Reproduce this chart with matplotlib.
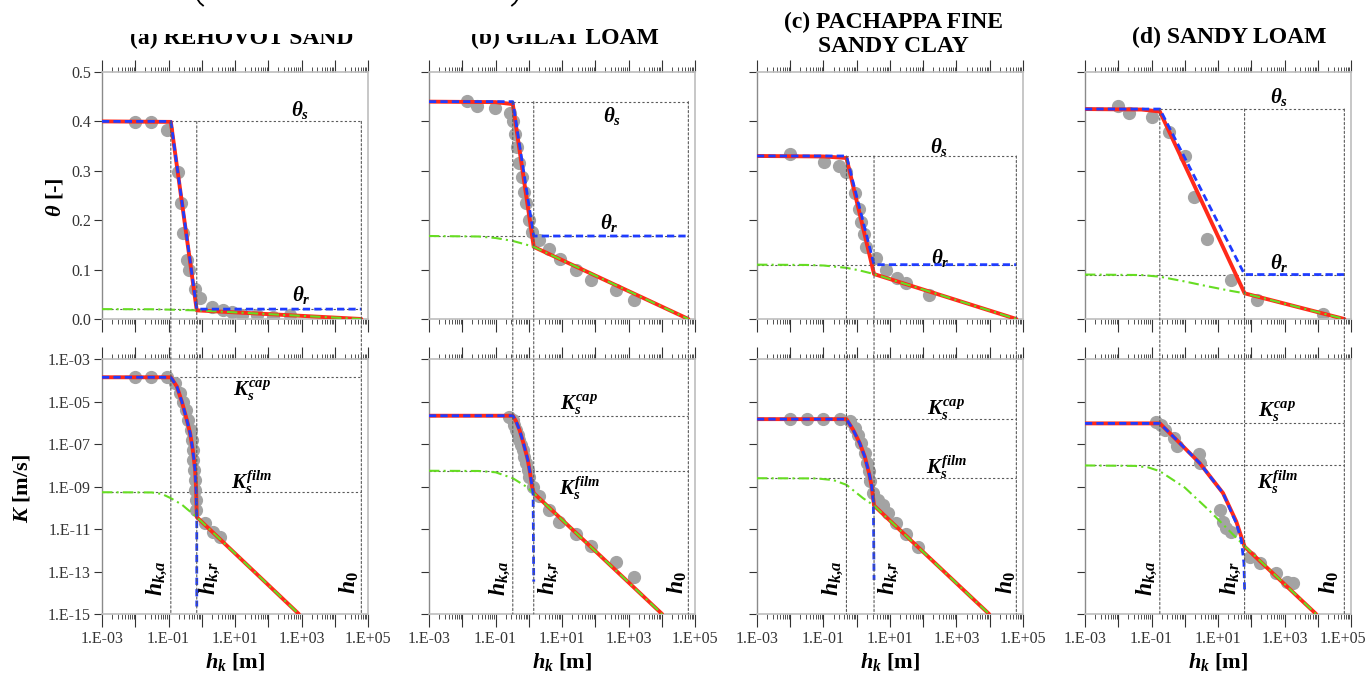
import numpy as np
import matplotlib
matplotlib.use('Agg')
import matplotlib.pyplot as plt
from matplotlib.patches import ConnectionPatch, Rectangle
from matplotlib.lines import Line2D
from matplotlib.transforms import ScaledTranslation
from matplotlib.ticker import FixedLocator, LogLocator, NullLocator, FuncFormatter

plt.rcParams['font.family'] = 'Liberation Serif'
plt.rcParams['mathtext.fontset'] = 'custom'
plt.rcParams['mathtext.rm'] = 'Liberation Serif:bold'
plt.rcParams['mathtext.it'] = 'Liberation Serif:bold:italic'
plt.rcParams['mathtext.bf'] = 'Liberation Serif:bold'

# ---------------------------------------------------------------- data
# all suctions are log10(h_k [m]), all conductivities log10(K [m/s])
titles = [['(a) REHOVOT SAND'], ['(b) GILAT LOAM'],
          ['(c) PACHAPPA FINE', 'SANDY CLAY'], ['(d) SANDY LOAM']]

theta_s = [0.40, 0.44, 0.33, 0.425]
theta_r = [0.02, 0.168, 0.11, 0.09]
lg_ha = [-0.93, -0.48, -0.31, -0.75]
lg_hr = [-0.15, 0.15, 0.52, 1.80]
lg_h0 = 4.8
lg_Kcap = [-3.86, -5.67, -5.83, -6.03]
lg_Kfilm = [-9.27, -8.26, -8.61, -8.01]

# measured water retention
rehovot_th_h = [-2.0, -1.52, -1.05, -0.70, -0.62, -0.55, -0.45, -0.38, -0.20, -0.06,
                0.30, 0.63, 0.90, 1.2, 1.65, 2.14, 2.65]
rehovot_th = [0.399, 0.399, 0.383, 0.298, 0.235, 0.175, 0.119, 0.100, 0.060, 0.043,
              0.024, 0.018, 0.014, 0.009, 0.008, 0.005, 0.008]
gilat_th_h = [-1.86, -1.55, -1.02, -0.55, -0.46, -0.40, -0.35, -0.28, -0.20, -0.13,
              -0.08, 0.0, 0.10, 0.32, 0.62, 0.95, 1.42, 1.87, 2.63, 3.18]
gilat_th = [0.441, 0.432, 0.428, 0.416, 0.401, 0.375, 0.348, 0.315, 0.288, 0.257,
            0.234, 0.200, 0.177, 0.160, 0.141, 0.121, 0.099, 0.079, 0.059, 0.038]
pachappa_th_h = [-2.0, -0.985, -0.53, -0.33, -0.06, 0.07, 0.14, 0.21, 0.29, 0.59,
                 0.89, 1.21, 1.49, 2.17]
pachappa_th = [0.334, 0.318, 0.310, 0.298, 0.255, 0.222, 0.197, 0.173, 0.146, 0.123,
               0.099, 0.082, 0.072, 0.049]
sloam_th_h = [-2.0, -1.68, -0.98, -0.48, 0.0, 0.27, 0.68, 1.38, 2.17, 4.17]
sloam_th = [0.431, 0.417, 0.408, 0.379, 0.330, 0.247, 0.161, 0.079, 0.038, 0.010]

# measured hydraulic conductivity
rehovot_K_h = [-2.0, -1.52, -1.05, -0.80, -0.65, -0.55, -0.47, -0.40, -0.33, -0.29,
               -0.27, -0.25, -0.23, -0.21, -0.19, -0.18, -0.17, 0.10, 0.35, 0.55]
rehovot_K = [-3.86, -3.86, -3.86, -4.13, -4.60, -5.0, -5.39, -5.86, -6.33, -6.80,
             -7.27, -7.74, -8.21, -8.69, -9.16, -9.63, -10.10, -10.73, -11.12, -11.36]
gilat_K_h = [-0.58, -0.48, -0.43, -0.38, -0.33, -0.28, -0.23, -0.18, -0.13, -0.08,
             -0.03, 0.02, 0.12, 0.30, 0.60, 0.92, 1.42, 1.87, 2.63, 3.18]
gilat_K = [-5.73, -5.89, -6.09, -6.33, -6.57, -6.80, -7.04, -7.27, -7.59, -7.90,
           -8.21, -8.53, -9.0, -9.47, -10.10, -10.65, -11.23, -11.80, -12.53, -13.24]
pachappa_K_h = [-2.0, -1.50, -1.00, -0.49, -0.19, -0.06, 0.04, 0.14, 0.24, 0.31,
                0.36, 0.41, 0.49, 0.64, 0.79, 0.94, 1.19, 1.49, 1.84]
pachappa_K = [-5.83, -5.83, -5.83, -5.83, -5.94, -6.25, -6.57, -6.96, -7.43, -7.90,
              -8.29, -8.76, -9.31, -9.63, -9.86, -10.26, -10.73, -11.23, -11.83]
sloam_K_h = [-0.87, -0.70, -0.60, -0.33, -0.23, 0.43, 0.47, 1.05, 1.15, 1.25,
             1.40, 1.95, 2.25, 2.75, 3.07, 3.25]
sloam_K = [-5.98, -6.09, -6.33, -6.72, -7.11, -7.46, -7.90, -10.10, -10.65, -10.96,
           -11.12, -12.30, -12.61, -13.08, -13.48, -13.52]

# fitted curves, (log10 h, theta) vertices: total / capillary / film
rehovot_th_tot = [(-3, 0.40), (-0.93, 0.399), (-0.15, 0.0175), (4.8, 0.0)]
rehovot_th_cap = [(-3, 0.40), (-0.93, 0.40), (-0.15, 0.02), (4.8, 0.02)]
rehovot_th_film = [(-3, 0.020), (-1.5, 0.0197), (-0.93, 0.0189), (-0.5, 0.018),
                   (-0.15, 0.0175), (4.8, 0.0)]
gilat_th_tot = [(-3, 0.44), (-1.0, 0.439), (-0.48, 0.435), (0.15, 0.146), (4.8, 0.0)]
gilat_th_cap = [(-3, 0.44), (-0.48, 0.44), (0.15, 0.168), (4.8, 0.168)]
gilat_th_film = [(-3, 0.168), (-1.5, 0.167), (-1.0, 0.164), (-0.48, 0.158),
                 (-0.15, 0.152), (0.15, 0.146), (4.8, 0.0)]
pachappa_th_tot = [(-3, 0.33), (-1.0, 0.329), (-0.31, 0.326), (0.52, 0.091), (4.8, 0.0)]
pachappa_th_cap = [(-3, 0.33), (-0.31, 0.33), (0.52, 0.11), (4.8, 0.11)]
pachappa_th_film = [(-3, 0.110), (-1.5, 0.1094), (-1.0, 0.1083), (-0.31, 0.1035),
                    (0.08, 0.0984), (0.52, 0.091), (4.8, 0.0)]
sloam_th_tot = [(-3, 0.425), (-1.3, 0.424), (-0.75, 0.420), (1.80, 0.052), (4.8, 0.0)]
sloam_th_cap = [(-3, 0.425), (-0.75, 0.425), (1.80, 0.09), (4.8, 0.09)]
sloam_th_film = [(-3, 0.090), (-1.3, 0.089), (-0.75, 0.0856), (0.0, 0.076),
                 (0.7, 0.066), (1.3, 0.058), (1.80, 0.052), (4.8, 0.0)]

# fitted curves, (log10 h, log10 K) vertices: total / capillary / film
rehovot_K_tot = [(-3, -3.86), (-0.93, -3.86), (-0.75, -4.29), (-0.6, -5.0), (-0.45, -5.86),
                 (-0.35, -6.49), (-0.27, -7.27), (-0.2, -8.2), (-0.17, -9.1),
                 (-0.15, -10.44), (2.92, -15.0)]
rehovot_K_cap = [(-3, -3.86), (-0.93, -3.86), (-0.75, -4.29), (-0.6, -5.0), (-0.45, -5.86),
                 (-0.35, -6.49), (-0.27, -7.27), (-0.2, -8.21), (-0.17, -9.16),
                 (-0.15, -10.41), (-0.15, -14.65)]
rehovot_K_film = [(-3, -9.27), (-1.5, -9.28), (-1.2, -9.35), (-0.93, -9.55), (-0.6, -9.85),
                  (-0.45, -10.05), (-0.15, -10.44), (2.92, -15.0)]
gilat_K_tot = [(-3, -5.67), (-0.48, -5.67), (-0.38, -5.94), (-0.28, -6.33), (-0.16, -6.96),
               (-0.03, -7.74), (0.04, -8.37), (0.10, -9.0), (0.15, -9.31), (4.01, -15.0)]
gilat_K_cap = [(-3, -5.67), (-0.48, -5.67), (-0.38, -5.94), (-0.28, -6.33), (-0.16, -6.96),
               (-0.03, -7.74), (0.04, -8.37), (0.10, -9.0), (0.13, -9.3), (0.15, -13.48)]
gilat_K_film = [(-3, -8.26), (-1.5, -8.27), (-1.0, -8.33), (-0.48, -8.61), (-0.08, -9.0),
                (0.15, -9.31), (4.01, -15.0)]
pachappa_K_tot = [(-3, -5.83), (-0.31, -5.83), (-0.11, -6.33), (0.09, -6.96), (0.24, -7.59),
                  (0.37, -8.37), (0.45, -9.0), (0.52, -9.90), (3.98, -15.0)]
pachappa_K_cap = [(-3, -5.83), (-0.31, -5.83), (-0.11, -6.33), (0.09, -6.96), (0.24, -7.59),
                  (0.37, -8.37), (0.45, -9.0), (0.50, -9.7), (0.52, -13.40)]
pachappa_K_film = [(-3, -8.61), (-1.2, -8.62), (-0.7, -8.70), (-0.31, -8.92), (0.19, -9.55),
                   (0.52, -9.90), (3.98, -15.0)]
sloam_K_tot = [(-3, -6.03), (-0.75, -6.03), (-0.25, -6.80), (0.45, -7.90), (1.15, -9.31),
               (1.55, -10.65), (1.70, -11.36), (1.80, -11.83), (3.95, -15.0)]
sloam_K_cap = [(-3, -6.03), (-0.75, -6.03), (-0.25, -6.80), (0.45, -7.90), (1.15, -9.31),
               (1.55, -10.73), (1.70, -11.51), (1.78, -12.61), (1.80, -13.87)]
sloam_K_film = [(-3, -8.01), (-1.5, -8.03), (-1.1, -8.1), (-0.75, -8.28), (0.0, -9.05),
                (0.75, -10.15), (1.35, -11.1), (1.80, -11.8), (3.95, -15.0)]

th_obs = [(rehovot_th_h, rehovot_th), (gilat_th_h, gilat_th),
          (pachappa_th_h, pachappa_th), (sloam_th_h, sloam_th)]
K_obs = [(rehovot_K_h, rehovot_K), (gilat_K_h, gilat_K),
         (pachappa_K_h, pachappa_K), (sloam_K_h, sloam_K)]
th_fit = [(rehovot_th_tot, rehovot_th_cap, rehovot_th_film),
          (gilat_th_tot, gilat_th_cap, gilat_th_film),
          (pachappa_th_tot, pachappa_th_cap, pachappa_th_film),
          (sloam_th_tot, sloam_th_cap, sloam_th_film)]
K_fit = [(rehovot_K_tot, rehovot_K_cap, rehovot_K_film),
         (gilat_K_tot, gilat_K_cap, gilat_K_film),
         (pachappa_K_tot, pachappa_K_cap, pachappa_K_film),
         (sloam_K_tot, sloam_K_cap, sloam_K_film)]

# ---------------------------------------------------------------- styles
c_tot, c_cap, c_film = '#ff2a1a', '#1f3cff', '#66dd22'
c_ref = '#5a5a5a'
dot_kw = dict(ls='none', marker='o', ms=8.5, mfc='#a3a3a3', mec='#a3a3a3', zorder=2)
tot_kw = dict(color=c_tot, lw=2.8, zorder=3, solid_capstyle='round')
film_kw = dict(color=c_film, lw=1.5, ls=(0, (5, 2, 1, 2)), zorder=4)
cap_kw = dict(color=c_cap, lw=2.0, ls=(0, (2.6, 1.5)), zorder=5)
ref_kw = dict(color=c_ref, lw=0.8, ls=(0, (2, 2)), zorder=1)

# annotation positions (log10 h, value)
th_s_lab = [(2.95, 0.423), (2.52, 0.41), (2.48, 0.348), (2.84, 0.449)]
th_r_lab = [(3.0, 0.049), (2.43, 0.194), (2.5, 0.123), (2.84, 0.113)]
Kcap_lab = [(1.50, -4.5), (1.52, -5.16), (2.69, -5.4), (2.78, -5.49)]
Kfilm_lab = [(1.50, -8.79), (1.52, -9.07), (2.69, -8.08), (2.78, -8.79)]
h_lab_x = [(-1.35, 0.24, 4.45), (-0.87, 0.62, 4.46), (-0.72, 0.98, 4.49), (-1.14, 1.40, 4.34)]

W, H = 1371.0, 677.0
fig = plt.figure(figsize=(W / 100, H / 100), dpi=100)

lefts = [102, 429, 757, 1085]
axw = 266


def lg_curve(ax, pts, logy=False, **kw):
    pts = np.asarray(pts, float)
    y = 10 ** pts[:, 1] if logy else pts[:, 1]
    ax.plot(10 ** pts[:, 0], y, **kw)


def exp_fmt(v, pos):
    e = int(round(np.log10(v)))
    return '1.E%+03d' % e


def style_axes(ax, col, bottom_row):
    ax.set_xscale('log')
    ax.set_xlim(1e-3, 1e5)
    ax.xaxis.set_major_locator(FixedLocator(10.0 ** np.arange(-3, 6)))
    ax.xaxis.set_minor_locator(LogLocator(base=10, subs=np.arange(2, 10), numticks=30))
    ax.tick_params(axis='x', which='both', direction='out', top=True, bottom=True,
                   colors='#333333', labelsize=11.5, pad=3)
    ax.tick_params(axis='x', which='major', length=9, width=0.8)
    ax.tick_params(axis='x', which='minor', length=3.5, width=0.6)
    ax.tick_params(axis='y', which='major', direction='out', length=6, width=0.8,
                   colors='#333333', labelsize=11.5, pad=2, right=False)
    ax.tick_params(axis='y', which='minor', left=False, right=False)
    for side in ('top', 'bottom', 'right'):
        ax.spines[side].set_color('#bdbdbd')
        ax.spines[side].set_linewidth(1.2)
    ax.spines['left'].set_color('#8a8a8a')
    ax.spines['left'].set_linewidth(1.0)
    if bottom_row:
        ax.xaxis.set_major_formatter(FuncFormatter(
            lambda v, p: exp_fmt(v, p) if int(round(np.log10(v))) % 2 else ''))
    else:
        ax.set_xticklabels([])
    ax.xaxis.set_minor_formatter(FuncFormatter(lambda v, p: ''))


for i, x0 in enumerate(lefts):
    at = fig.add_axes([x0 / W, 1 - 319 / H, axw / W, 247 / H])
    ab = fig.add_axes([x0 / W, 1 - 614 / H, axw / W, 255 / H])
    style_axes(at, i, False)
    style_axes(ab, i, True)

    ha, hr, h0 = 10 ** lg_ha[i], 10 ** lg_hr[i], 10 ** lg_h0
    Kc, Kf = 10 ** lg_Kcap[i], 10 ** lg_Kfilm[i]

    # water retention
    at.set_ylim(0, 0.5)
    at.set_yticks(np.arange(0, 0.51, 0.1))
    if i == 0:
        at.set_yticklabels(['%.1f' % v for v in np.arange(0, 0.51, 0.1)])
    else:
        at.set_yticklabels([])
    at.plot([ha, h0], [theta_s[i], theta_s[i]], **ref_kw)
    at.plot([1e-3, h0], [theta_r[i], theta_r[i]], **ref_kw)
    at.plot(10 ** np.array(th_obs[i][0]), th_obs[i][1], **dot_kw)
    tot, cap, film = th_fit[i]
    lg_curve(at, tot, **tot_kw)
    lg_curve(at, film, **film_kw)
    lg_curve(at, cap, **cap_kw)
    x, y = th_s_lab[i]
    at.text(10 ** x, y, r'$\theta_s$', fontsize=15, ha='center', va='center')
    x, y = th_r_lab[i]
    at.text(10 ** x, y, r'$\theta_r$', fontsize=15, ha='center', va='center')

    # hydraulic conductivity
    ab.set_yscale('log')
    ab.set_ylim(1e-15, 1e-3)
    ab.yaxis.set_major_locator(FixedLocator(10.0 ** np.arange(-15, -2, 2)))
    ab.yaxis.set_minor_locator(NullLocator())
    if i == 0:
        ab.yaxis.set_major_formatter(FuncFormatter(exp_fmt))
    else:
        ab.yaxis.set_major_formatter(FuncFormatter(lambda v, p: ''))
    ab.plot([ha, h0], [Kc, Kc], **ref_kw)
    ab.plot([1e-3, h0], [Kf, Kf], **ref_kw)
    ab.plot(10 ** np.array(K_obs[i][0]), 10 ** np.array(K_obs[i][1]), **dot_kw)
    tot, cap, film = K_fit[i]
    lg_curve(ab, tot, logy=True, **tot_kw)
    lg_curve(ab, film, logy=True, **film_kw)
    lg_curve(ab, cap, logy=True, **cap_kw)
    x, y = Kcap_lab[i]
    ab.text(10 ** x, 10 ** y, r'$K_s^{cap}$', fontsize=15, ha='center', va='center')
    x, y = Kfilm_lab[i]
    ab.text(10 ** x, 10 ** y, r'$K_s^{film}$', fontsize=15, ha='center', va='center')
    for lx, lab, ly in zip(h_lab_x[i], [r'$h_{k,\!a}$', r'$h_{k,\!r}$', r'$h_0$'],
                           (-13.3, -13.3, -13.5)):
        ab.text(10 ** lx, 10 ** ly, lab, fontsize=17, rotation=90,
                ha='center', va='center')

    # vertical markers at h_k,a, h_k,r and h_0 running through both panels
    for h in (ha, hr, h0):
        con = ConnectionPatch(xyA=(h, theta_s[i]), coordsA=at.transData,
                              xyB=(h, 1e-15), coordsB=ab.transData,
                              color=c_ref, lw=0.8, linestyle=(0, (2, 2)), zorder=1)
        fig.add_artist(con)

    xc = (x0 + axw / 2) / W
    fig.text(xc, 1 - 662 / H, r'$h_k$ [m]', fontsize=16, fontweight='bold',
             ha='center', va='center')

    # keep the last decade label of the right-most panel inside the figure
    if i == len(lefts) - 1:
        last = ab.get_xticklabels()[-1]
        last.set_transform(last.get_transform()
                           + ScaledTranslation(-6 / 72, 0, fig.dpi_scale_trans))

fig.text(55 / W, 1 - 197 / H, r'$\theta$ [-]', fontsize=16, fontweight='bold',
         rotation=90, ha='center', va='center')
fig.text(22 / W, 1 - 488 / H, r'$K$ [m/s]', fontsize=16, fontweight='bold',
         rotation=90, ha='center', va='center')

# panel titles
title_x = [242, 565, 893, 1229]
title_base = [[44], [44], [28, 52], [43]]
for lines, xc, ys in zip(titles, title_x, title_base):
    for txt, yb in zip(lines, ys):
        fig.text(xc / W, 1 - yb / H, txt, fontsize=17, fontweight='bold',
                 ha='center', va='baseline')

# header strip over the first two titles, with the bracket tails poking out
fig.add_artist(Rectangle((0, 1 - 34 / H), 586 / W, 34 / H, transform=fig.transFigure,
                         facecolor='white', edgecolor='none', zorder=10))
for xs, ys in (([198, 200, 203], [0, 3, 5.5]), ([517, 515, 512], [0, 3, 5.5])):
    fig.add_artist(Line2D(np.array(xs) / W, 1 - np.array(ys) / H,
                          transform=fig.transFigure, color='black', lw=1.3, zorder=11))

fig.savefig('out.png', dpi=100)
